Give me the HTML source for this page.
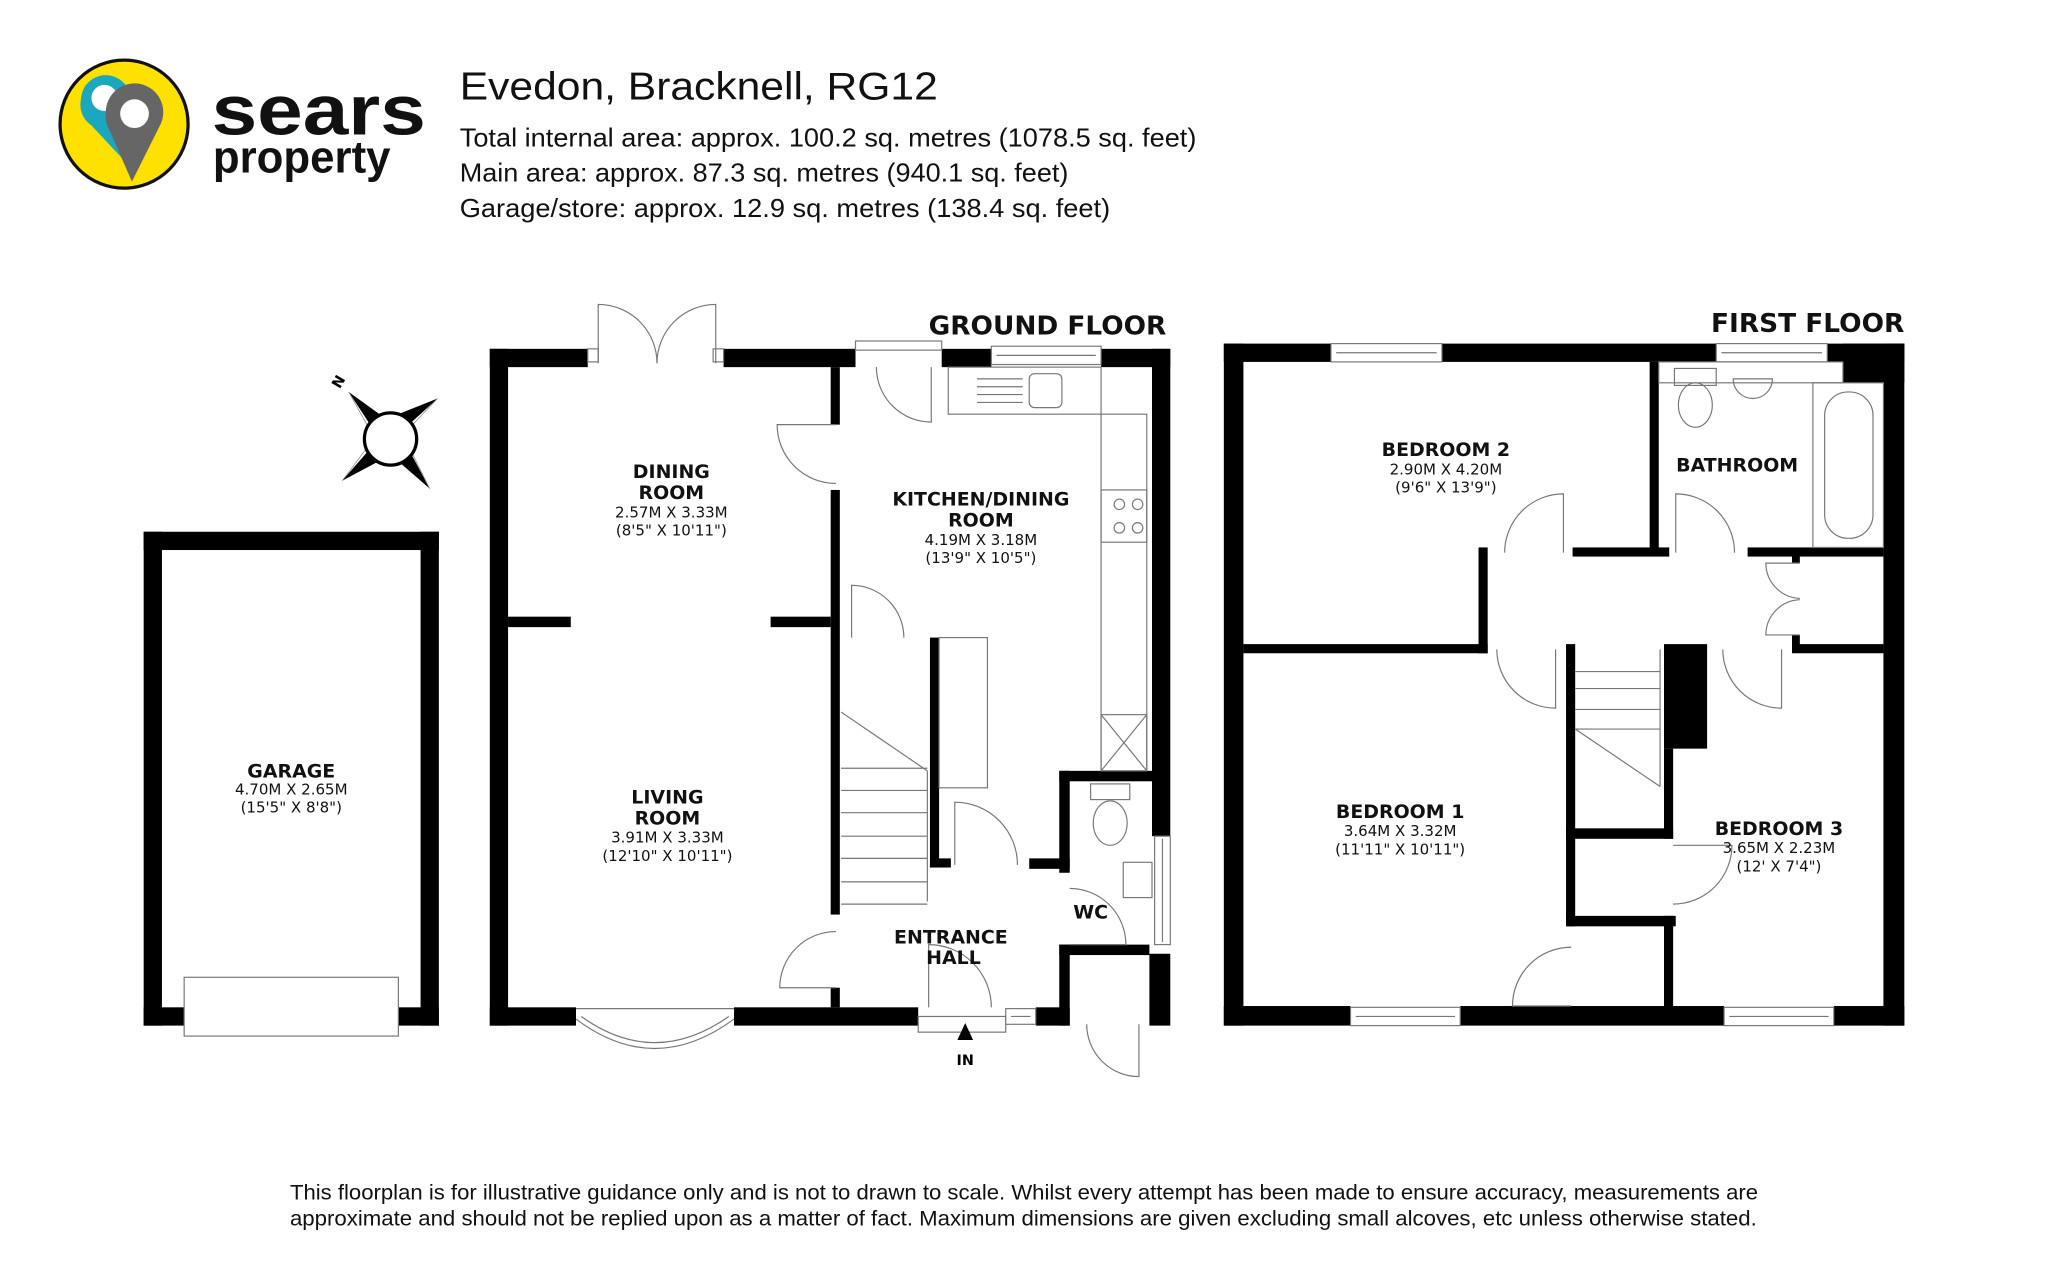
<!DOCTYPE html>
<html><head><meta charset="utf-8"><style>
html,body{margin:0;padding:0;background:#fff;}
svg{display:block;}
.lb{font-family:"DejaVu Sans",sans-serif;font-weight:bold;font-size:14.5px;fill:#111;text-anchor:middle;}
.dm{font-family:"DejaVu Sans",sans-serif;font-size:11.5px;fill:#111;text-anchor:middle;}
.tn{fill:none;stroke:#777;stroke-width:0.9;}
.wn{fill:#fff;stroke:#777;stroke-width:0.9;}
</style></head><body>
<svg width="2048" height="1283" viewBox="0 0 1568 982" preserveAspectRatio="none" xmlns="http://www.w3.org/2000/svg">
<rect width="1568" height="982" fill="#fff"/>
<!-- Logo -->
<circle cx="95" cy="95" r="49" fill="#FFE100" stroke="#111" stroke-width="2.5"/>
<path d="M62,76 a19,19 0 1 1 36,9 L98,126 L70,96 a19,19 0 0 1 -8,-20z" fill="#1BA7BE"/>
<circle cx="80" cy="75" r="10" fill="#fff"/>
<path d="M81,86 a22,22 0 1 1 42,9 L101,139 L84,100 a22,22 0 0 1 -3,-14z" fill="#666"/>
<circle cx="103" cy="87" r="11" fill="#fff"/>
<text x="162" y="103" font-family="Liberation Sans,sans-serif" font-weight="bold" font-size="54" fill="#111" textLength="164" lengthAdjust="spacingAndGlyphs">sears</text>
<text x="163" y="132" font-family="Liberation Sans,sans-serif" font-weight="bold" font-size="35" fill="#111" textLength="136" lengthAdjust="spacingAndGlyphs">property</text>
<text x="352" y="76" font-family="Liberation Sans,sans-serif" font-size="30" fill="#111" textLength="366" lengthAdjust="spacingAndGlyphs">Evedon, Bracknell, RG12</text>
<g font-family="Liberation Sans,sans-serif" font-size="20" fill="#111">
<text x="352" y="112" textLength="564" lengthAdjust="spacingAndGlyphs">Total internal area: approx. 100.2 sq. metres (1078.5 sq. feet)</text>
<text x="352" y="139" textLength="466" lengthAdjust="spacingAndGlyphs">Main area: approx. 87.3 sq. metres (940.1 sq. feet)</text>
<text x="352" y="166" textLength="498" lengthAdjust="spacingAndGlyphs">Garage/store: approx. 12.9 sq. metres (138.4 sq. feet)</text>
</g>
<text x="711" y="256" font-family="DejaVu Sans,sans-serif" font-weight="bold" font-size="20" fill="#111" textLength="182" lengthAdjust="spacingAndGlyphs">GROUND FLOOR</text>
<text x="1310" y="254" font-family="DejaVu Sans,sans-serif" font-weight="bold" font-size="20" fill="#111" textLength="148" lengthAdjust="spacingAndGlyphs">FIRST FLOOR</text>

<!-- Compass -->
<g>
<polygon points="267,300 292,318 284,326" fill="#000"/><line x1="267" y1="300" x2="282" y2="327" stroke="#888" stroke-width="0.6"/>
<polygon points="335,305 312,326 305,317" fill="#000"/><line x1="335" y1="305" x2="314" y2="327" stroke="#888" stroke-width="0.6"/>
<polygon points="262,368 282,345 290,353" fill="#000"/><line x1="262" y1="368" x2="280" y2="344" stroke="#888" stroke-width="0.6"/>
<polygon points="329,374 306,354 314,346" fill="#000"/><line x1="329" y1="374" x2="316" y2="348" stroke="#888" stroke-width="0.6"/>
<circle cx="299" cy="336" r="20" fill="#fff" stroke="#000" stroke-width="2.5"/>
<text x="259" y="296" font-family="DejaVu Sans,sans-serif" font-weight="bold" font-size="11" transform="rotate(-60 259 292)" text-anchor="middle">N</text>
</g>

<!-- Garage -->
<g fill="#000">
<rect x="110" y="407" width="226" height="14"/>
<rect x="110" y="407" width="14" height="378"/>
<rect x="322" y="407" width="14" height="378"/>
<rect x="110" y="771" width="31" height="14"/>
<rect x="305" y="771" width="31" height="14"/>
</g>
<rect x="141" y="748" width="164" height="45" class="wn"/>
<text class="lb" x="223" y="595">GARAGE</text>
<text class="dm" x="223" y="608">4.70M X 2.65M</text>
<text class="dm" x="223" y="622">(15'5" X 8'8")</text>

<!-- Ground floor walls -->
<g fill="#000">
<rect x="375" y="267" width="75" height="14"/>
<rect x="554" y="267" width="101" height="14"/>
<rect x="721" y="267" width="38" height="14"/>
<rect x="843" y="267" width="53" height="14"/>
<rect x="375" y="267" width="14" height="518"/>
<rect x="375" y="771" width="66" height="14"/>
<rect x="562" y="771" width="141" height="14"/>
<rect x="793" y="771" width="26" height="14"/>
<rect x="882" y="267" width="14" height="373"/>
<rect x="880" y="730" width="16" height="55"/>
<rect x="636" y="281" width="7" height="44"/>
<rect x="636" y="375" width="7" height="325"/>
<rect x="636" y="756" width="7" height="15"/>
<rect x="389" y="472" width="48" height="8"/>
<rect x="590" y="472" width="46" height="8"/>
<rect x="712" y="488" width="7" height="176"/>
<rect x="712" y="657" width="16" height="7"/>
<rect x="788" y="657" width="31" height="8"/>
<rect x="811" y="590" width="71" height="8"/>
<rect x="811" y="590" width="8" height="78"/>
<rect x="811" y="723" width="69" height="8"/>
<rect x="811" y="723" width="8" height="62"/>
</g>
<!-- windows / openings GF -->
<rect x="759" y="265" width="84" height="14" class="wn"/><line x1="763" y1="272" x2="839" y2="272" class="tn"/>
<rect x="655" y="261" width="66" height="7" class="wn"/>
<rect x="884" y="640" width="12" height="83" class="wn"/><line x1="890" y1="642" x2="890" y2="721" class="tn"/>
<rect x="703" y="778" width="67" height="12" class="wn"/>
<rect x="770" y="772" width="23" height="12" class="wn"/><line x1="774" y1="778" x2="789" y2="778" class="tn"/>
<path d="M441,780 Q501,825 562,780" class="tn"/><path d="M445,778 Q501,818 558,778" class="tn"/>
<line x1="441" y1="772" x2="562" y2="772" class="tn"/>
<!-- french doors -->
<rect x="450" y="267" width="8" height="10" class="wn"/><rect x="546" y="267" width="8" height="10" class="wn"/>
<path d="M458,278 L458,233 A45,45 0 0 1 503,278" class="tn"/>
<path d="M548,278 L548,233 A45,45 0 0 0 503,278" class="tn"/>
<!-- GF doors -->
<path d="M713,281 L713,323 A42,42 0 0 1 671,281" class="tn"/>
<path d="M640,325 L595,325 A45,45 0 0 0 640,370" class="tn"/>
<path d="M652,488 L652,448 A40,40 0 0 1 692,488" class="tn"/>
<path d="M640,756 L597,756 A43,43 0 0 1 640,713" class="tn"/>
<path d="M731,662 L731,614 A48,48 0 0 1 779,662" class="tn"/>
<path d="M819,723 L862,723 A43,43 0 0 0 819,680" class="tn"/>
<path d="M711,771 L711,723 A48,48 0 0 1 759,771" class="tn"/>
<path d="M872,784 L872,824 A40,40 0 0 1 832,784" class="tn"/>
<!-- kitchen fittings -->
<rect x="726" y="281" width="117" height="36" class="tn"/>
<rect x="843" y="317" width="35" height="273" class="tn"/>
<rect x="843" y="375" width="35" height="40" class="tn"/>
<circle cx="857" cy="386" r="4" class="tn"/><circle cx="871" cy="386" r="4" class="tn"/>
<circle cx="857" cy="404" r="4" class="tn"/><circle cx="871" cy="404" r="4" class="tn"/>
<rect x="843" y="547" width="35" height="43" class="tn"/><path d="M843,547 L878,590 M878,547 L843,590" class="tn"/>
<path d="M748,290 H783 M748,296 H783 M748,302 H783 M748,308 H783" class="tn"/>
<rect x="788" y="286" width="25" height="26" rx="4" class="tn"/>
<rect x="719" y="488" width="37" height="115" class="tn"/>
<!-- GF stairs -->
<path d="M644,545 L710,590 M644,588 H710 M644,605 H710 M644,622 H710 M644,640 H710 M644,657 H710 M644,675 H710 M710,590 V690 M644,692 H710" class="tn"/>
<!-- WC -->
<rect x="835" y="600" width="30" height="12" class="tn"/>
<ellipse cx="850" cy="630" rx="13" ry="17" class="tn"/>
<rect x="860" y="660" width="22" height="27" class="tn"/>
<!-- IN arrow -->
<polygon points="739,783 733,796 745,796" fill="#000"/>
<text x="739" y="815" font-family="DejaVu Sans,sans-serif" font-weight="bold" font-size="11" text-anchor="middle">IN</text>
<!-- GF labels -->
<text class="lb" x="514" y="366">DINING</text><text class="lb" x="514" y="382">ROOM</text>
<text class="dm" x="514" y="396">2.57M X 3.33M</text><text class="dm" x="514" y="410">(8'5" X 10'11")</text>
<text class="lb" x="751" y="387">KITCHEN/DINING</text><text class="lb" x="751" y="403">ROOM</text>
<text class="dm" x="751" y="417">4.19M X 3.18M</text><text class="dm" x="751" y="431">(13'9" X 10'5")</text>
<text class="lb" x="511" y="615">LIVING</text><text class="lb" x="511" y="631">ROOM</text>
<text class="dm" x="511" y="645">3.91M X 3.33M</text><text class="dm" x="511" y="659">(12'10" X 10'11")</text>
<text class="lb" x="728" y="722">ENTRANCE</text><text class="lb" x="730" y="738">HALL</text>
<text class="lb" x="835" y="703">WC</text>

<!-- First floor walls -->
<g fill="#000">
<rect x="937" y="263" width="82" height="14"/>
<rect x="1104" y="263" width="210" height="14"/>
<rect x="1399" y="263" width="59" height="14"/>
<rect x="1411" y="263" width="47" height="30"/>
<rect x="937" y="263" width="15" height="522"/>
<rect x="1442" y="263" width="16" height="522"/>
<rect x="937" y="770" width="97" height="15"/>
<rect x="1118" y="770" width="202" height="15"/>
<rect x="1404" y="770" width="54" height="15"/>
<rect x="1263" y="277" width="7" height="148"/>
<rect x="1204" y="419" width="74" height="7"/>
<rect x="1338" y="419" width="104" height="7"/>
<rect x="952" y="493" width="187" height="7"/>
<rect x="1132" y="419" width="7" height="81"/>
<rect x="1372" y="493" width="70" height="7"/>
<rect x="1372" y="425" width="6" height="6"/>
<rect x="1372" y="486" width="6" height="8"/>
<rect x="1199" y="493" width="7" height="216"/>
<rect x="1199" y="634" width="82" height="8"/>
<rect x="1199" y="701" width="84" height="8"/>
<rect x="1274" y="701" width="7" height="69"/>
<rect x="1274" y="493" width="33" height="80"/>
<rect x="1274" y="573" width="7" height="69"/>
</g>
<rect x="1019" y="263" width="85" height="14" class="wn"/><line x1="1023" y1="270" x2="1100" y2="270" class="tn"/>
<rect x="1314" y="263" width="85" height="14" class="wn"/><line x1="1318" y1="270" x2="1395" y2="270" class="tn"/>
<rect x="1034" y="771" width="84" height="14" class="wn"/><line x1="1038" y1="778" x2="1114" y2="778" class="tn"/>
<rect x="1320" y="771" width="84" height="14" class="wn"/><line x1="1324" y1="778" x2="1400" y2="778" class="tn"/>
<!-- FF doors -->
<path d="M1197,423 L1197,378 A45,45 0 0 0 1152,423" class="tn"/>
<path d="M1283,423 L1283,378 A45,45 0 0 1 1328,423" class="tn"/>
<path d="M1191,497 L1191,542 A45,45 0 0 1 1146,497" class="tn"/>
<path d="M1364,497 L1364,542 A45,45 0 0 1 1319,497" class="tn"/>
<path d="M1378,431 L1352,431 A27,27 0 0 0 1378,458" class="tn"/>
<path d="M1378,486 L1352,486 A27,27 0 0 1 1378,459" class="tn"/>
<path d="M1281,647 L1326,647 A45,45 0 0 1 1281,692" class="tn"/>
<path d="M1203,770 L1158,770 A45,45 0 0 1 1203,725" class="tn"/>
<!-- FF stairs -->
<path d="M1206,514 H1271 M1206,527 H1271 M1206,543 H1271 M1206,558 H1271 M1206,558 L1271,602 M1271,497 V602" class="tn"/>
<!-- bathroom fittings -->
<rect x="1270" y="277" width="141" height="16" class="tn"/>
<rect x="1282" y="282" width="32" height="13" class="tn"/>
<ellipse cx="1298" cy="310" rx="13" ry="17" class="tn"/>
<path d="M1327,290 A15,15 0 0 0 1357,290 Z" class="tn"/>
<rect x="1388" y="293" width="54" height="126" class="tn"/>
<rect x="1397" y="300" width="37" height="112" rx="18" class="tn"/>
<!-- FF labels -->
<text class="lb" x="1107" y="349">BEDROOM 2</text>
<text class="dm" x="1107" y="363">2.90M X 4.20M</text><text class="dm" x="1107" y="377">(9'6" X 13'9")</text>
<text class="lb" x="1330" y="361">BATHROOM</text>
<text class="lb" x="1072" y="626">BEDROOM 1</text>
<text class="dm" x="1072" y="640">3.64M X 3.32M</text><text class="dm" x="1072" y="654">(11'11" X 10'11")</text>
<text class="lb" x="1362" y="639">BEDROOM 3</text>
<text class="dm" x="1362" y="653">3.65M X 2.23M</text><text class="dm" x="1362" y="667">(12' X 7'4")</text>

<!-- footer -->
<g font-family="Liberation Sans,sans-serif" font-size="16" fill="#111">
<text x="222" y="918" textLength="1124" lengthAdjust="spacingAndGlyphs">This floorplan is for illustrative guidance only and is not to drawn to scale. Whilst every attempt has been made to ensure accuracy, measurements are</text>
<text x="222" y="938" textLength="1123" lengthAdjust="spacingAndGlyphs">approximate and should not be replied upon as a matter of fact. Maximum dimensions are given excluding small alcoves, etc unless otherwise stated.</text>
</g>
</svg>
</body></html>
